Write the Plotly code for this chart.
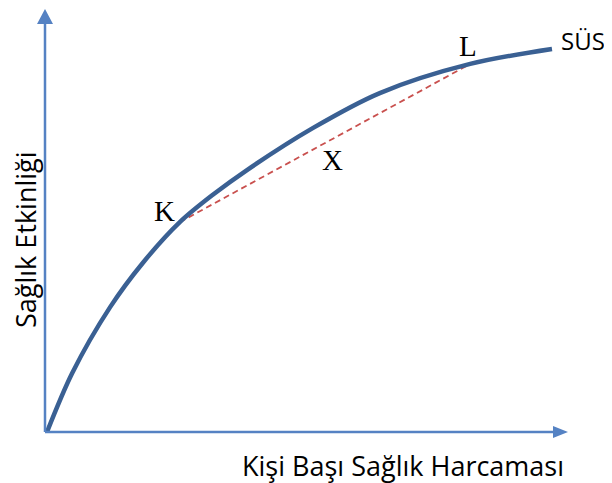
import plotly.graph_objects as go

# conceptual curve: health spending (x) vs health effectiveness (y), arbitrary units
spending = [0, 5.0, 12.5, 19.0, 26.3, 32.9, 39.6, 52.7, 65.9, 83.8, 100]
effect = [0, 15.4, 32.6, 44.2, 54.8, 62.0, 68.4, 79.4, 88.5, 96.1, 100]

# the two points joined by the dashed chord
chord_names = ["K", "L"]
chord_x = [26.3, 83.8]
chord_y = [54.8, 96.1]
mid_name = "X"

curve_name = "SÜS"
x_title = "Kişi Başı Sağlık Harcaması"
y_title = "Sağlık Etkinliği"

# page body has an 8px margin, so the figure is drawn 8px in
OFF = 8
W, H = 612 - OFF, 483 - OFF
SX, SY = 5.05, 3.83          # px per unit
X0_PX, Y0_PX = 47 - OFF, 432 - OFF


def ux(px):
    return (px - OFF - X0_PX) / SX


def uy(py):
    return (Y0_PX - (py - OFF)) / SY


x_rng = [-X0_PX / SX, (W - X0_PX) / SX]
y_rng = [(Y0_PX - H) / SY, Y0_PX / SY]

AXIS_C = "#5582C3"
CURVE_C = "#3A6093"
DASH_C = "#C9504E"

x_end = ux(568)
y_end = uy(9)
ax_x = ux(45)

fig = go.Figure()

fig.add_trace(go.Scatter(
    x=chord_x, y=chord_y, mode="lines",
    line={"color": DASH_C, "width": 1.8, "dash": "6px,4px"},
    hoverinfo="skip",
))
fig.add_trace(go.Scatter(
    x=spending, y=effect, mode="lines", line_shape="spline",
    line={"color": CURVE_C, "width": 4.5, "smoothing": 0.9},
    hoverinfo="skip",
))

shapes = [
    # y axis
    dict(type="line", x0=ax_x, y0=0, x1=ax_x, y1=y_end - 14 / SY,
         line={"color": AXIS_C, "width": 2.5}),
    dict(type="path",
         path=f"M {ax_x - 8 / SX} {y_end - 15 / SY} L {ax_x} {y_end} L {ax_x + 8 / SX} {y_end - 15 / SY} Z",
         fillcolor=AXIS_C, line={"width": 0}),
    # x axis
    dict(type="line", x0=ax_x, y0=0, x1=x_end - 14 / SX, y1=0,
         line={"color": AXIS_C, "width": 2.5}),
    dict(type="path",
         path=f"M {x_end - 15 / SX} {6 / SY} L {x_end} 0 L {x_end - 15 / SX} {-6 / SY} Z",
         fillcolor=AXIS_C, line={"width": 0}),
]

serif = {"family": "Liberation Serif, Times New Roman, serif", "size": 29, "color": "black"}
sans = {"family": "Open Sans, sans-serif", "size": 27, "color": "black"}

annotations = [
    dict(x=ux(164), y=uy(211), text=chord_names[0], font=serif),
    dict(x=ux(468), y=uy(46), text=chord_names[1], font=serif),
    dict(x=ux(332), y=uy(160), text=mid_name, font=serif),
    dict(x=ux(559), y=uy(40), text=curve_name, font={**sans, "size": 24}, xanchor="left"),
    dict(x=ux(403), y=uy(465), text=x_title, font=sans, borderpad=0),
    dict(x=ux(25), y=uy(240), text=y_title, font=sans, textangle=-90, borderpad=0),
]
for a in annotations:
    a.update(xref="x", yref="y", showarrow=False)

fig.update_layout(
    width=W, height=H,
    margin={"l": 0, "r": 0, "t": 0, "b": 0},
    plot_bgcolor="white", paper_bgcolor="white",
    showlegend=False,
    xaxis={"range": x_rng, "visible": False, "fixedrange": True},
    yaxis={"range": y_rng, "visible": False, "fixedrange": True},
    shapes=shapes,
    annotations=annotations,
)

fig.write_html("out.html", config={"displayModeBar": False})
